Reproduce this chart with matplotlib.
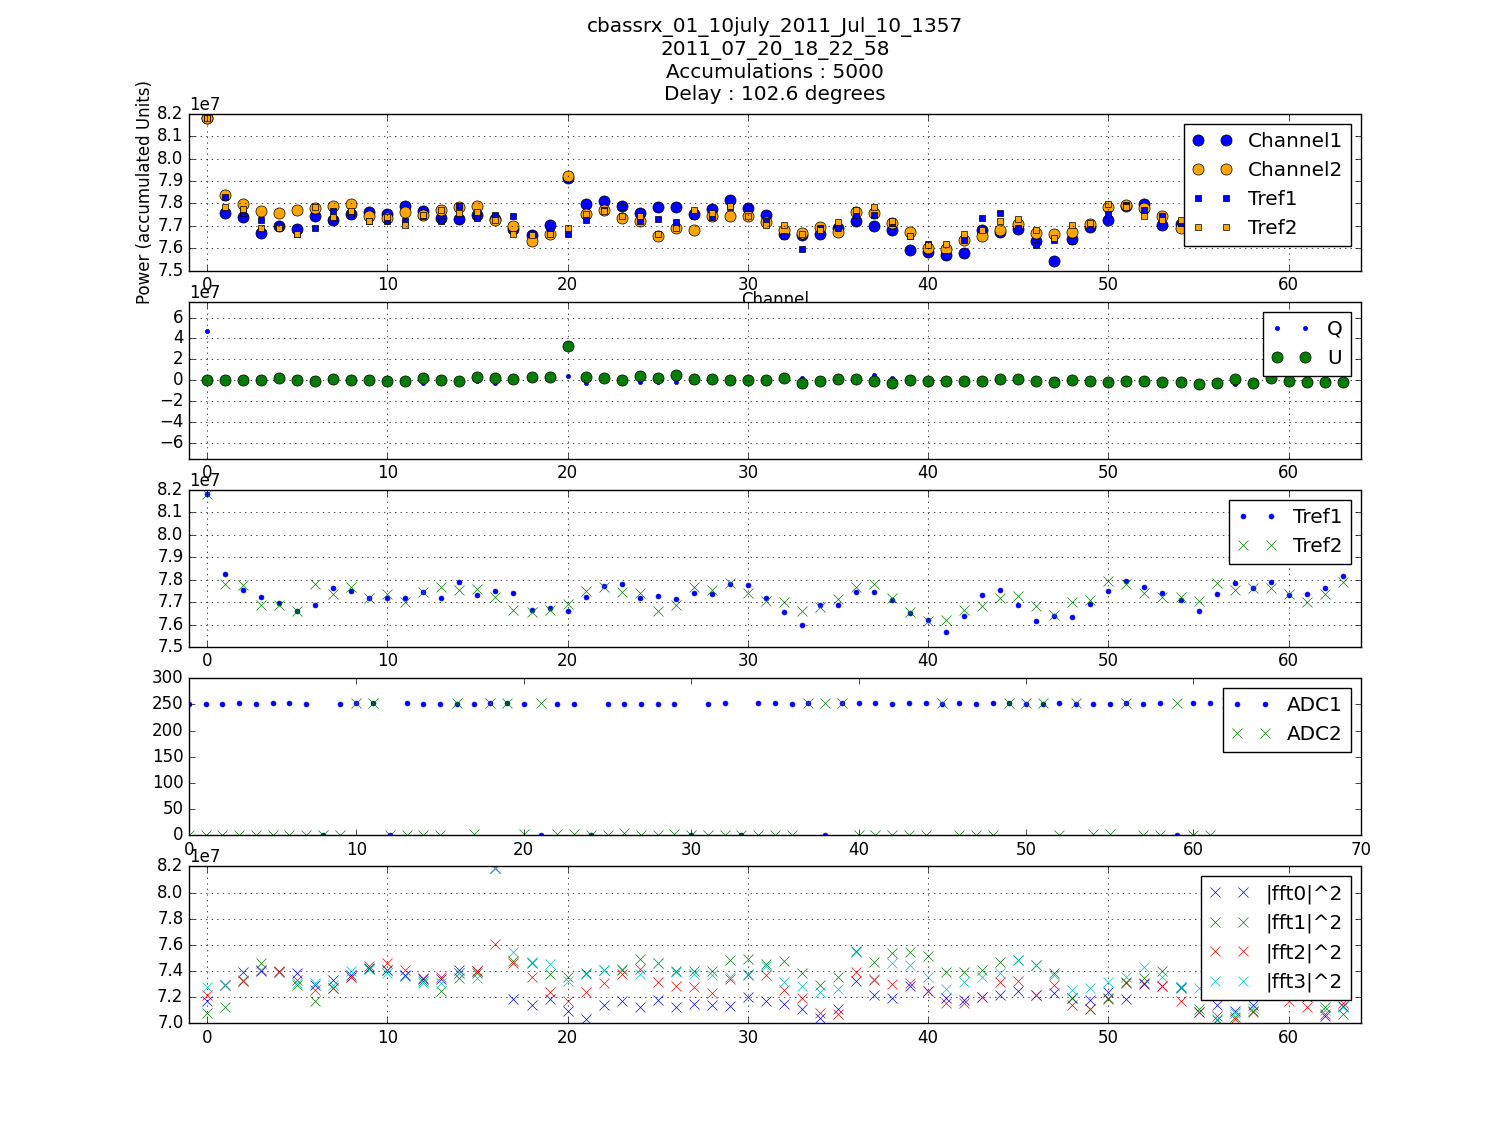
import numpy as np
import matplotlib
matplotlib.use("Agg")
import matplotlib.pyplot as plt

plt.style.use("classic")
plt.rcParams["figure.facecolor"] = "white"
plt.rcParams["savefig.facecolor"] = "white"

channels = np.arange(64)

# panel 1 : power per channel (units of 1e7)
channel1 = [8.183, 7.758, 7.740, 7.669, 7.697, 7.684, 7.745, 7.727, 7.751, 7.763,
            7.754, 7.790, 7.767, 7.736, 7.731, 7.749, 7.728, 7.686, 7.660, 7.704,
            7.915, 7.799, 7.812, 7.790, 7.758, 7.782, 7.785, 7.754, 7.776, 7.816,
            7.779, 7.749, 7.664, 7.660, 7.664, 7.691, 7.722, 7.700, 7.682, 7.593,
            7.584, 7.570, 7.579, 7.682, 7.673, 7.687, 7.633, 7.543, 7.642, 7.694,
            7.727, 7.790, 7.799, 7.704, 7.709, 7.700, 7.760, 7.780, 7.770, 7.790,
            7.740, 7.730, 7.760, 7.800]
channel2 = [8.183, 7.836, 7.796, 7.767, 7.758, 7.772, 7.781, 7.790, 7.796, 7.745,
            7.736, 7.763, 7.749, 7.772, 7.785, 7.790, 7.727, 7.700, 7.633, 7.664,
            7.922, 7.754, 7.772, 7.736, 7.722, 7.652, 7.691, 7.679, 7.745, 7.745,
            7.745, 7.718, 7.679, 7.666, 7.696, 7.673, 7.763, 7.758, 7.713, 7.673,
            7.601, 7.597, 7.637, 7.655, 7.682, 7.709, 7.669, 7.664, 7.673, 7.709,
            7.785, 7.794, 7.781, 7.745, 7.691, 7.720, 7.780, 7.760, 7.770, 7.770,
            7.740, 7.710, 7.740, 7.790]
tref1 = [8.183, 7.827, 7.755, 7.724, 7.697, 7.662, 7.688, 7.764, 7.751, 7.719,
         7.719, 7.719, 7.743, 7.719, 7.788, 7.733, 7.748, 7.742, 7.665, 7.674,
         7.661, 7.724, 7.770, 7.782, 7.719, 7.728, 7.715, 7.742, 7.737, 7.782,
         7.778, 7.719, 7.656, 7.598, 7.688, 7.688, 7.746, 7.746, 7.710, 7.652,
         7.620, 7.566, 7.638, 7.733, 7.755, 7.688, 7.616, 7.638, 7.634, 7.692,
         7.751, 7.794, 7.769, 7.742, 7.710, 7.661, 7.737, 7.787, 7.764, 7.791,
         7.733, 7.737, 7.764, 7.818]
tref2 = [8.183, 7.782, 7.775, 7.688, 7.688, 7.662, 7.782, 7.737, 7.767, 7.719,
         7.737, 7.701, 7.746, 7.769, 7.755, 7.760, 7.724, 7.665, 7.658, 7.665,
         7.692, 7.751, 7.767, 7.745, 7.742, 7.661, 7.688, 7.769, 7.755, 7.787,
         7.742, 7.704, 7.701, 7.661, 7.679, 7.715, 7.769, 7.782, 7.719, 7.656,
         7.616, 7.620, 7.665, 7.683, 7.719, 7.728, 7.683, 7.643, 7.701, 7.710,
         7.796, 7.782, 7.742, 7.724, 7.724, 7.706, 7.787, 7.755, 7.764, 7.764,
         7.737, 7.701, 7.737, 7.791]

# panel 2 : Q and U (units of 1e7)
q_vals = [4.68, 0, 0, 0, 0.19, 0, -0.1, 0.1, 0, -0.3,
          -0.1, -0.1, -0.3, 0, -0.1, -0.03, -0.25, 0.1, 0.29, 0.32,
          0.38, -0.25, 0.19, 0.06, -0.13, -0.13, -0.13, 0.16, 0.1, 0.06,
          0, 0.06, 0.19, 0.22, -0.03, 0.1, 0.1, 0.48, 0.22, 0.06,
          -0.03, -0.03, -0.03, -0.03, 0.1, 0.1, -0.03, -0.13, 0.06, -0.03,
          -0.13, -0.35, -0.03, -0.13, -0.13, -0.32, -0.22, -0.35, -0.22, 0.19,
          -0.03, -0.13, -0.13, -0.13]
u_vals = [0, 0, 0, 0, 0.19, 0, -0.1, 0.1, 0, 0,
          -0.1, -0.1, 0.22, 0, -0.1, 0.29, 0.22, 0.1, 0.29, 0.32,
          3.31, 0.29, 0.19, 0.06, 0.38, 0.22, 0.48, 0.16, 0.1, 0.06,
          0, 0.06, 0.19, -0.22, -0.03, 0.1, 0.1, -0.03, -0.22, 0.06,
          -0.03, -0.03, -0.03, -0.03, 0.1, 0.1, -0.03, -0.13, 0.06, -0.03,
          -0.13, -0.03, -0.03, -0.13, -0.13, -0.32, -0.22, 0.1, -0.22, 0.19,
          -0.03, -0.13, -0.13, -0.13]

# panel 4 : ADC
adc1 = [251, 251, 250, 253, 251, 253, 253, 251, 0, 251,
        252, 252, 0, 253, 251, 251, 250, 251, 253, 253,
        251, 0, 251, 251, 1, 251, 250, 250, 251, 251,
        0, 251, 253, 0, 253, 253, 251, 253, 0, 253,
        253, 253, 251, 253, 253, 251, 253, 251, 253, 253,
        251, 251, 253, 250, 250, 250, 253, 251, 253, 0,
        253, 253, 252, 252]
adc2 = [0, 0, 0, 0, 0, 0, 0, 0, 0, 0,
        253, 253, 0, 0, 0, 0, 252, 2, 253, 253,
        2, 253, 2, 2, 1, 1, 4, 1, 1, 2,
        1, 1, 1, 1, 1, 1, 1, 253, 253, 253,
        1, 1, 1, 1, 1, 252, 1, 1, 1, 253,
        253, 253, 1, 253, 3, 3, 253, 1, 1, 253,
        1, 1, 253, 253]

# panel 5 : |fft|^2 (units of 1e7)
fft0 = [7.167, 7.295, 7.392, 7.397, 7.392, 7.385, 7.295, 7.333, 7.367, 7.423,
        7.41, 7.372, 7.341, 7.341, 7.41, 7.403, 8.19, 7.187, 7.141, 7.187,
        7.095, 7.031, 7.141, 7.167, 7.121, 7.177, 7.128, 7.151, 7.141, 7.136,
        7.205, 7.167, 7.146, 7.11, 7.044, 7.11, 7.326, 7.218, 7.192, 7.282,
        7.249, 7.197, 7.179, 7.205, 7.218, 7.244, 7.218, 7.231, 7.192, 7.179,
        7.238, 7.187, 7.3, 7.282, 7.274, 7.09, 7.141, 7.095, 7.141, 7.22,
        7.22, 7.2, 7.059, 7.13]
fft1 = [7.077, 7.128, 7.321, 7.462, 7.392, 7.295, 7.167, 7.269, 7.351, 7.418,
        7.41, 7.359, 7.326, 7.249, 7.346, 7.385, 8.19, 7.474, 7.462, 7.377,
        7.351, 7.385, 7.41, 7.41, 7.495, 7.462, 7.397, 7.397, 7.397, 7.487,
        7.495, 7.454, 7.479, 7.385, 7.29, 7.351, 7.551, 7.469, 7.538, 7.546,
        7.513, 7.392, 7.392, 7.41, 7.469, 7.487, 7.449, 7.385, 7.192, 7.11,
        7.192, 7.315, 7.346, 7.397, 7.269, 7.11, 7.026, 7.05, 7.095, 7.3,
        7.3, 7.28, 7.128, 7.07]
fft2 = [7.218, 7.295, 7.321, 7.41, 7.403, 7.333, 7.256, 7.269, 7.351, 7.436,
        7.462, 7.41, 7.346, 7.351, 7.385, 7.403, 7.603, 7.462, 7.351, 7.238,
        7.172, 7.238, 7.308, 7.377, 7.418, 7.315, 7.282, 7.274, 7.231, 7.341,
        7.372, 7.367, 7.256, 7.197, 7.077, 7.07, 7.392, 7.333, 7.3, 7.308,
        7.249, 7.154, 7.154, 7.205, 7.315, 7.326, 7.218, 7.29, 7.141, 7.11,
        7.187, 7.308, 7.308, 7.282, 7.172, 7.09, 7.059, 7.033, 7.09, 7.25,
        7.167, 7.128, 7.07, 7.155]
fft3 = [7.277, 7.295, 7.333, 7.41, 7.392, 7.308, 7.308, 7.295, 7.397, 7.418,
        7.385, 7.359, 7.308, 7.308, 7.385, 7.346, 8.19, 7.546, 7.469, 7.454,
        7.326, 7.377, 7.41, 7.418, 7.377, 7.462, 7.392, 7.377, 7.372, 7.351,
        7.377, 7.436, 7.315, 7.282, 7.238, 7.264, 7.546, 7.341, 7.462, 7.444,
        7.351, 7.264, 7.315, 7.351, 7.385, 7.487, 7.449, 7.372, 7.256, 7.269,
        7.315, 7.351, 7.428, 7.351, 7.274, 7.269, 7.03, 7.08, 7.115, 7.28,
        7.26, 7.25, 7.103, 7.125]

e7 = 1e7
fig = plt.figure(figsize=(15.12, 11.37), dpi=100)

# 1 : power
ax1 = fig.add_subplot(511)
ax1.plot(channels, np.array(channel1) * e7, "o", color="b", mec="k", mew=0.5, ms=8, label="Channel1")
ax1.plot(channels, np.array(channel2) * e7, "o", color="orange", mec="k", mew=0.5, ms=8, label="Channel2")
ax1.plot(channels, np.array(tref1) * e7, "s", color="b", mec="k", mew=0.5, ms=4, label="Tref1")
ax1.plot(channels, np.array(tref2) * e7, "s", color="orange", mec="k", mew=0.5, ms=4, label="Tref2")
ax1.set_xlim(-1, 64)
ax1.set_ylim(7.5e7, 8.2e7)
ax1.set_xlabel("Channel", labelpad=-2)
ax1.set_ylabel("Power (accumulated Units)", labelpad=2)
ax1.set_title("cbassrx_01_10july_2011_Jul_10_1357\n2011_07_20_18_22_58\n"
              "Accumulations : 5000\nDelay : 102.6 degrees", fontsize=14.4, pad=10)
ax1.grid(True)
ax1.legend(loc="upper right", numpoints=2)

# 2 : Q, U
ax2 = fig.add_subplot(512)
ax2.plot(channels, np.array(q_vals) * e7, ".", color="b", mec="b", ms=6, label="Q")
ax2.plot(channels, np.array(u_vals) * e7, "o", color="g", mec="k", mew=0.5, ms=8, label="U")
ax2.set_xlim(-1, 64)
ax2.set_ylim(-7.5e7, 7.5e7)
ax2.set_yticks(np.arange(-6, 7, 2) * e7)
ax2.grid(True)
ax2.legend(loc="upper right", numpoints=2)

# 3 : Tref
ax3 = fig.add_subplot(513)
ax3.plot(channels, np.array(tref1) * e7, ".", color="b", mec="b", ms=7, label="Tref1")
ax3.plot(channels, np.array(tref2) * e7, "x", color="g", ms=7, label="Tref2")
ax3.set_xlim(-1, 64)
ax3.set_ylim(7.5e7, 8.2e7)
ax3.grid(True)
ax3.legend(loc="upper right", numpoints=2)

# 4 : ADC
ax4 = fig.add_subplot(514)
ax4.plot(channels, adc1, ".", color="b", mec="b", ms=7, label="ADC1")
ax4.plot(channels, adc2, "x", color="g", ms=7, label="ADC2")
ax4.set_xlim(0, 70)
ax4.set_ylim(0, 300)
ax4.grid(False)
ax4.legend(loc="upper right", numpoints=2)

# 5 : fft power
ax5 = fig.add_subplot(515)
for vals, col, lab in [(fft0, "b", "|fft0|^2"), (fft1, "g", "|fft1|^2"),
                       (fft2, "r", "|fft2|^2"), (fft3, "c", "|fft3|^2")]:
    ax5.plot(channels, np.array(vals) * e7, "x", color=col, ms=7, label=lab)
ax5.set_xlim(-1, 64)
ax5.set_ylim(7.0e7, 8.2e7)
ax5.set_yticks(np.arange(7.0, 8.21, 0.2) * e7)
ax5.grid(True)
ax5.legend(loc="upper right", numpoints=2)

fig.savefig("out.png", dpi=100)
